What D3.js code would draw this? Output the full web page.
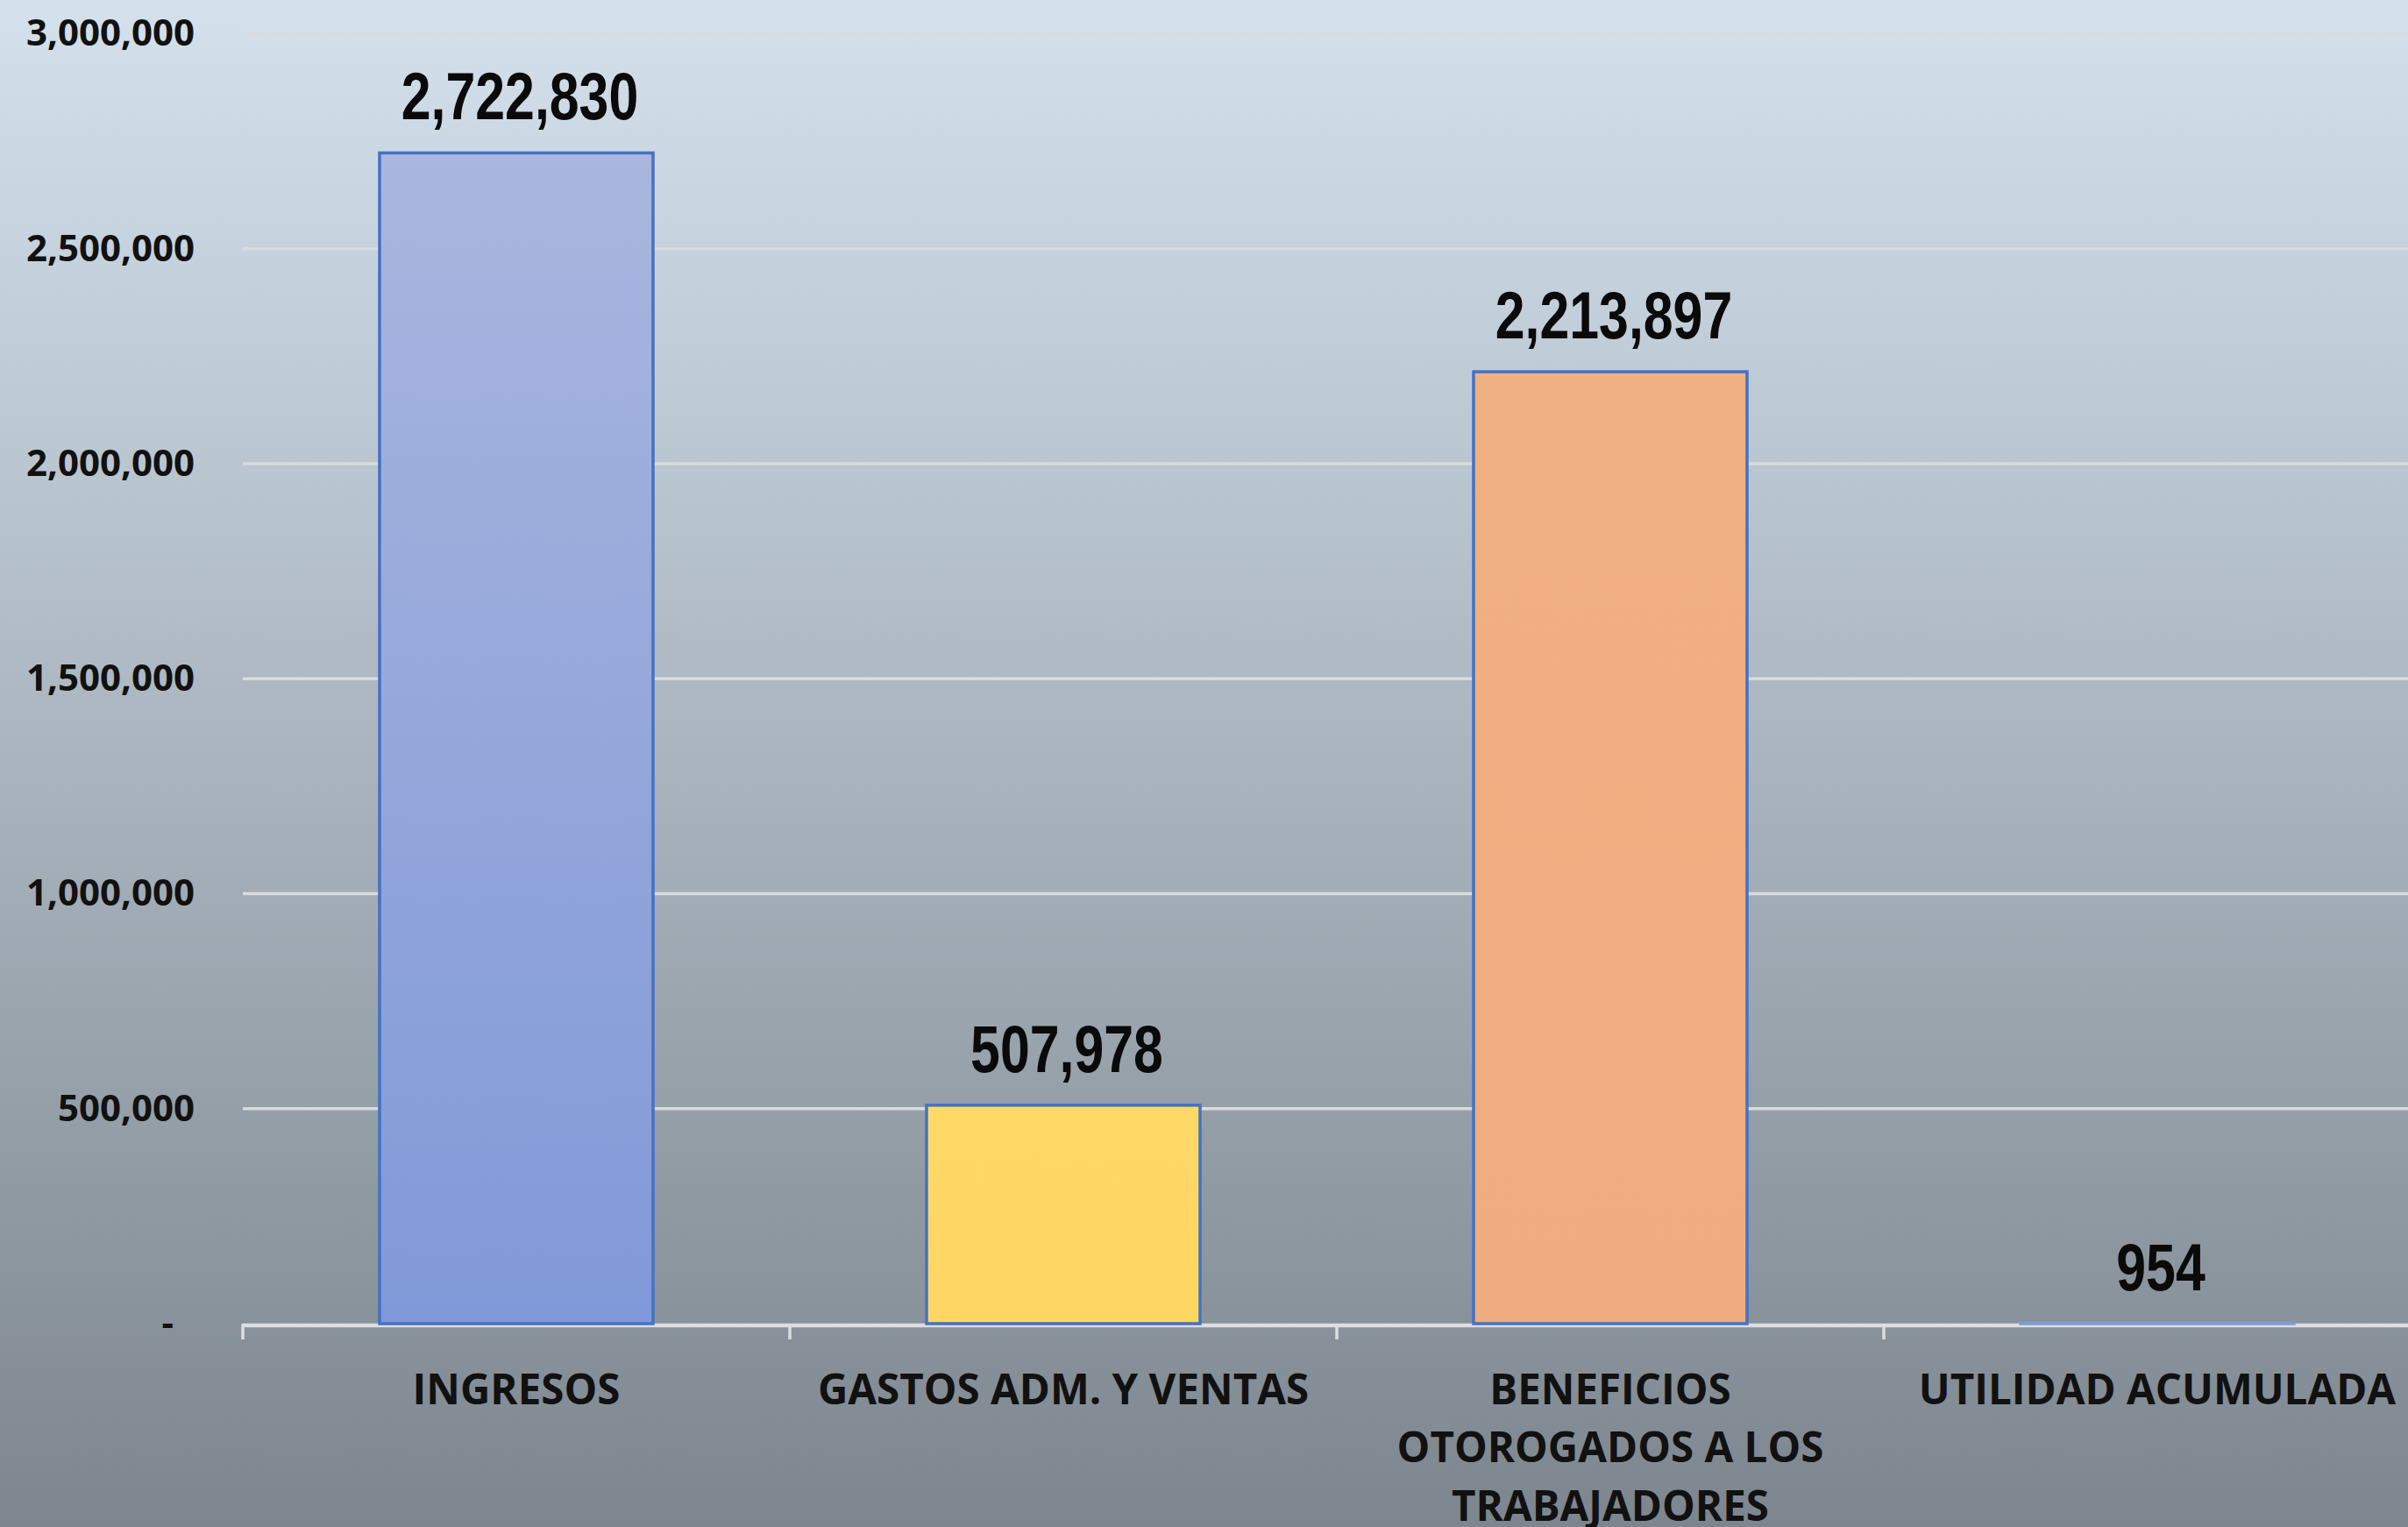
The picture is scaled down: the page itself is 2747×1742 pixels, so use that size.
<!DOCTYPE html>
<html>
<head>
<meta charset="utf-8">
<script src="https://cdn.jsdelivr.net/npm/d3@7"></script>
<style>
  html, body { margin: 0; padding: 0; overflow: hidden; background: #fff; }
  svg { display: block; }
  .ytick text { font-family: "Open Sans", sans-serif; font-weight: 700; font-size: 42px; fill: #111; }
  .xtick text { font-family: "Open Sans", sans-serif; font-weight: 700; font-size: 47.5px; fill: #111; }
  .val { font-family: "Liberation Sans", Arial, sans-serif; font-weight: 700; font-size: 76px; fill: #0a0a0a; }
</style>
</head>
<body>
<svg id="chart"></svg>
<script>
// data
const categories = ["INGRESOS", "GASTOS ADM. Y VENTAS", "BENEFICIOS OTOROGADOS A LOS TRABAJADORES", "UTILIDAD ACUMULADA"];
const values = [2722830, 507978, 2213897, 954];
const yTicks = [0, 500000, 1000000, 1500000, 2000000, 2500000, 3000000];

// bar fills, top -> bottom
const palette = [
    ["#A9B6DE", "#8099D8"],
    ["#FFD966", "#FDD663"],
    ["#F1B083", "#EFAC80"],
    ["#7F9BD0", "#7F9BD0"]
];

var width = 2747,
    height = 1742,
    margin = { top: 38.5, left: 277, bottom: 232 },
    step = 624,
    svg,
    x,
    y;

svg = d3.select("#chart")
    .attr("width", width)
    .attr("height", height)
    .style("overflow", "hidden");

const defs = svg.append("defs");

// background gradient
const bg = defs.append("linearGradient")
    .attr("id", "bg").attr("x1", 0).attr("y1", 0).attr("x2", 0).attr("y2", 1);
bg.append("stop").attr("offset", "0%").attr("stop-color", "#D4E1EC");
bg.append("stop").attr("offset", "50%").attr("stop-color", "#A9B4BE");
bg.append("stop").attr("offset", "100%").attr("stop-color", "#7D868E");

palette.forEach((c, i) => {
    const g = defs.append("linearGradient")
        .attr("id", "bar" + i).attr("x1", 0).attr("y1", 0).attr("x2", 0).attr("y2", 1);
    g.append("stop").attr("offset", "0%").attr("stop-color", c[0]);
    g.append("stop").attr("offset", "100%").attr("stop-color", c[1]);
});

svg.append("rect")
    .attr("width", width).attr("height", height)
    .attr("fill", "url(#bg)");

x = d3.scaleBand()
    .domain(categories)
    .range([margin.left, margin.left + step * categories.length])
    .paddingInner(0.5)
    .paddingOuter(0.25);

y = d3.scaleLinear()
    .domain([0, 3000000])
    .range([height - margin.bottom, margin.top]);

// y axis + gridlines
const yAxis = d3.axisLeft(y)
    .tickValues(yTicks)
    .tickSize(0)
    .tickPadding(55)
    .tickFormat(d => d === 0 ? "-" : d3.format(",")(d));

const yg = svg.append("g")
    .attr("class", "ytick")
    .attr("transform", "translate(" + margin.left + ",0)")
    .call(yAxis);
yg.select(".domain").remove();
yg.selectAll(".tick text")
    .filter(d => d === 0)
    .attr("x", -79);

svg.append("g")
    .selectAll("line")
    .data(yTicks.filter(d => d > 0))
    .join("line")
    .attr("x1", margin.left)
    .attr("x2", width)
    .attr("y1", d => y(d))
    .attr("y2", d => y(d))
    .attr("stroke", "#D9DBDD")
    .attr("stroke-width", 3.5);

// x axis line and boundary ticks (under the bars)
const base = y(0);
const xg = svg.append("g");
xg.append("line")
    .attr("x1", margin.left).attr("x2", width)
    .attr("y1", base + 2).attr("y2", base + 2)
    .attr("stroke", "#DCDEE0")
    .attr("stroke-width", 4.5);

const bounds = categories.map(c => x(c) - x.step() * x.paddingInner() / 2);
xg.selectAll(".bt")
    .data(bounds)
    .join("line")
    .attr("class", "bt")
    .attr("x1", d => d).attr("x2", d => d)
    .attr("y1", base).attr("y2", base + 18)
    .attr("stroke", "#DCDEE0")
    .attr("stroke-width", 3.5);

// bars
svg.append("g")
    .selectAll("rect")
    .data(values)
    .join("rect")
    .attr("x", (d, i) => x(categories[i]))
    .attr("y", d => y(d))
    .attr("width", x.bandwidth())
    .attr("height", d => y(0) - y(d))
    .attr("fill", (d, i) => "url(#bar" + i + ")")
    .attr("stroke", (d, i) => i === 3 ? "#7F9BD0" : "#4472C4")
    .attr("stroke-width", 3.5);

// category labels
const xAxis = d3.axisBottom(x).tickSize(0).tickPadding(58);
const xl = svg.append("g")
    .attr("class", "xtick")
    .attr("transform", "translate(0," + base + ")")
    .call(xAxis);
xl.select(".domain").remove();
xl.selectAll(".tick text").call(wrap, 600);

function wrap(texts, w) {
    texts.each(function() {
        const text = d3.select(this),
            words = text.text().split(/\s+/),
            yy = text.attr("y"),
            dy = parseFloat(text.attr("dy"));
        let line = [],
            lineNo = 0,
            tspan = text.text(null).append("tspan").attr("x", 0).attr("y", yy).attr("dy", dy + "em");
        words.forEach(word => {
            line.push(word);
            tspan.text(line.join(" "));
            if (tspan.node().getComputedTextLength() > w && line.length > 1) {
                line.pop();
                tspan.text(line.join(" "));
                line = [word];
                tspan = text.append("tspan")
                    .attr("x", 0).attr("y", yy)
                    .attr("dy", (++lineNo * 1.4 + dy) + "em")
                    .text(word);
            }
        });
    });
}

// value labels
svg.append("g")
    .selectAll("text")
    .data(values)
    .join("text")
    .attr("class", "val")
    .attr("text-anchor", "middle")
    .attr("transform", (d, i) => "translate(" + (x(categories[i]) + x.bandwidth() / 2 + 4) + "," + (y(d) - 38) + ") scale(0.8,1)")
    .text(d => d3.format(",")(d));
</script>
</body>
</html>
